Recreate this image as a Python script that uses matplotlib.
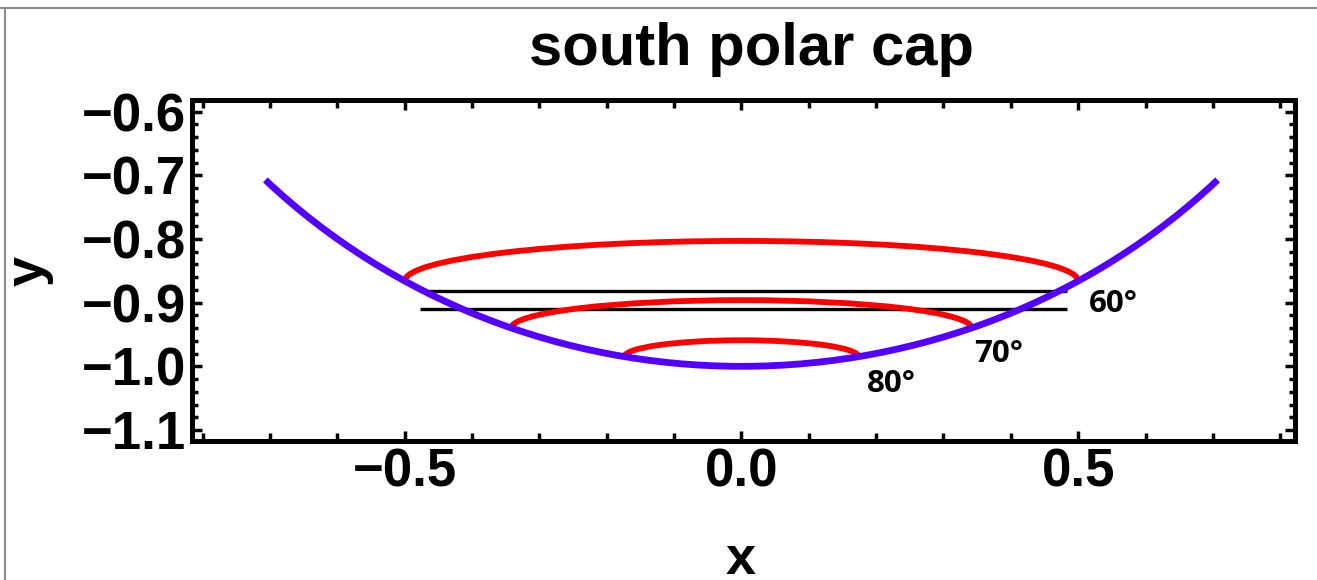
import matplotlib.pyplot as plt
from matplotlib.patches import Arc
from matplotlib.lines import Line2D
from matplotlib.ticker import MultipleLocator

# unit circle segment (lower part of the sphere section)
circle_radius = 1.0
circle_theta = (225.0, 315.0)

# polar caps: latitude, half width, rim height and top of the cap
latitudes = [60, 70, 80]
cap_half_width = [0.500, 0.342, 0.174]
cap_base_y = [-0.866, -0.940, -0.985]
cap_top_y = [-0.803, -0.896, -0.959]

# horizontal cuts
cut_y = [-0.881, -0.910]
cut_x = [-0.477, 0.483]

x_ticks = [-0.5, 0.0, 0.5]
y_ticks = [-0.6, -0.7, -0.8, -0.9, -1.0, -1.1]

label_pos = [(0.553, -0.9145), (0.382, -0.993), (0.223, -1.040)]

plt.rcParams['font.family'] = ['Liberation Sans', 'DejaVu Sans']
plt.rcParams['font.weight'] = 'bold'

fig = plt.figure(figsize=(13.17, 5.80), dpi=100)
ax = fig.add_axes([192 / 1317, 1 - 441 / 580, 1103 / 1317, 341 / 580])

for y in cut_y:
    ax.plot(cut_x, [y, y], color='black', lw=2.4, solid_capstyle='butt', zorder=1)

for hw, y0, y1 in zip(cap_half_width, cap_base_y, cap_top_y):
    ax.add_patch(Arc((0, y0), 2 * hw, 2 * (y1 - y0), theta1=0, theta2=180,
                     color='#ff0000', lw=4.2, zorder=2))

ax.add_patch(Arc((0, 0), 2 * circle_radius, 2 * circle_radius,
                 theta1=circle_theta[0], theta2=circle_theta[1],
                 color='#5500ff', lw=4.9, zorder=3))

for lat, (lx, ly) in zip(latitudes, label_pos):
    ax.text(lx, ly, f'{lat}°', ha='center', va='baseline', fontsize=22.5,
            family='Open Sans', fontweight='bold')

ax.set_xlim(-0.816, 0.822)
ax.set_ylim(-1.1173, -0.5816)

ax.xaxis.set_major_locator(plt.FixedLocator(x_ticks))
ax.xaxis.set_minor_locator(MultipleLocator(0.1))
ax.yaxis.set_major_locator(plt.FixedLocator(y_ticks))
ax.yaxis.set_minor_locator(MultipleLocator(0.02))
ax.set_xticklabels([f'{t:.1f}'.replace('-', '\u2212') for t in x_ticks])
ax.set_yticklabels([f'{t:.1f}'.replace('-', '\u2212') for t in y_ticks])

ax.tick_params(which='both', direction='in', top=True, right=True, width=2.5,
               labelsize=38, color='black')
ax.tick_params(axis='x', which='major', length=7, pad=5)
ax.tick_params(axis='x', which='minor', length=5.5)
ax.tick_params(axis='y', which='major', length=7.5, pad=4)
ax.tick_params(axis='y', which='minor', length=4)

for sp in ax.spines.values():
    sp.set_linewidth(3.6)

ax.set_title('south polar cap', fontsize=43, fontweight='bold', pad=25, x=0.507)
ax.set_xlabel('x', fontsize=39, fontweight='bold')
ax.xaxis.label.set_va('baseline')
ax.xaxis.set_label_coords(0.497, -0.39)
ax.set_ylabel('y', fontsize=39, fontweight='bold')
ax.yaxis.set_label_coords(-0.125, 0.5)

# thin grey frame along the top and left edges
fig.add_artist(Line2D([0, 1], [1 - 8 / 580, 1 - 8 / 580], color='#8c8c8c', lw=1.5))
fig.add_artist(Line2D([5 / 1317, 5 / 1317], [0, 1 - 8 / 580], color='#8c8c8c', lw=1.5))

fig.savefig('out.png', dpi=100)
